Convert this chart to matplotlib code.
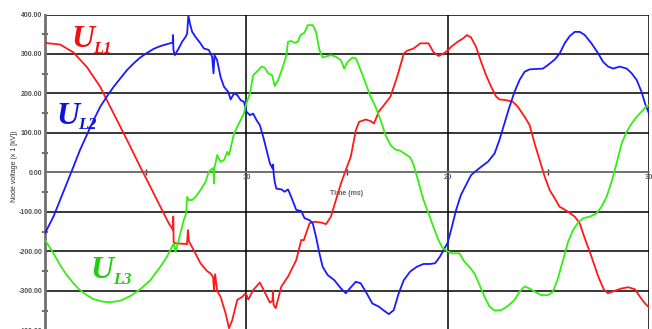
import matplotlib
matplotlib.use("Agg")
import matplotlib.pyplot as plt
from matplotlib.ticker import MultipleLocator, FuncFormatter

# Phase voltages U_L1, U_L2, U_L3: time (ms) and node voltage (x 1 kV)
t_l1 = [0, 0.75, 1.41, 2.08, 2.74, 3.24, 3.74, 4.24, 4.73, 5.23, 5.73, 6.15, 6.36, 6.37, 6.39,
        6.55, 6.95, 7.05, 7.10, 7.15, 7.39, 7.72, 8.05, 8.22, 8.35, 8.39, 8.45, 8.55, 8.72, 8.97,
        9.14, 9.30, 9.55, 9.80, 9.97, 10.1, 10.34, 10.67, 10.9, 11.17, 11.3, 11.32, 11.35, 11.46,
        11.74, 12.07, 12.48, 12.73, 12.85, 13.14, 13.38, 13.71, 13.96, 14.2, 14.45, 14.7, 14.94,
        15.19, 15.44, 15.6, 15.93, 16.17, 16.34, 16.58, 16.83, 17.16, 17.49, 17.82, 17.98, 18.31,
        18.64, 19.05, 19.29, 19.54, 19.79, 20.03, 20.17, 20.5, 20.75, 20.96, 21.16, 21.41, 21.66,
        21.91, 22.16, 22.41, 22.57, 22.9, 23.24, 23.49, 23.82, 24.07, 24.32, 24.57, 24.82, 25.07,
        25.32, 25.56, 25.9, 26.31, 26.56, 26.81, 27.14, 27.48, 27.77, 27.97, 28.3, 28.64, 28.97,
        29.3, 29.55, 29.8, 30]
u_l1 = [328, 324, 304, 267, 217, 166, 116, 65, 14, -36, -87, -129, -146, -112, -178,
        -180, -181, -182, -146, -175, -197, -230, -250, -256, -265, -298, -258, -300, -315, -357,
        -395, -374, -323, -315, -306, -322, -298, -279, -302, -330, -325, -300, -335, -344,
        -289, -264, -222, -171, -172, -129, -125, -127, -131, -112, -70, -28, 6,
        40, 107, 128, 134, 130, 124, 154, 170, 192, 242, 301, 308, 314,
        327, 327, 305, 295, 301, 310, 318, 331, 339, 348, 342, 318, 280,
        246, 217, 192, 185, 183, 179, 166, 141, 120, 73, 31, -11, -45,
        -66, -87, -97, -112, -129, -167, -213, -264, -298, -306, -300, -294, -291,
        -296, -315, -332, -342]

t_l2 = [0, 0.42, 0.75, 1.08, 1.41, 1.74, 2.08, 2.41, 2.74, 3.07, 3.41, 3.74, 4.07, 4.4, 4.73,
        5.07, 5.4, 5.73, 6.06, 6.34, 6.36, 6.38, 6.45, 6.64, 6.81, 6.98, 7.06, 7.12, 7.2, 7.31,
        7.48, 7.72, 7.89, 8.14, 8.3, 8.37, 8.42, 8.55, 8.72, 8.89, 9.1, 9.22, 9.39, 9.55, 9.72,
        9.88, 10.0, 10.18, 10.34, 10.51, 10.67, 10.84, 11.0, 11.17, 11.3, 11.33, 11.36, 11.41,
        11.49, 11.74, 11.9, 12.07, 12.23, 12.48, 12.73, 12.89, 13.14, 13.3, 13.46, 13.63, 13.79,
        14.04, 14.37, 14.7, 14.94, 15.19, 15.44, 15.68, 15.93, 16.26, 16.58, 16.83, 17.08, 17.32,
        17.57, 17.82, 18.14, 18.47, 18.8, 19.13, 19.38, 19.62, 19.87, 20.0, 20.17, 20.42, 20.66,
        20.91, 21.16, 21.41, 21.66, 22.0, 22.33, 22.57, 22.82, 23.07, 23.32, 23.57, 23.82, 24.07,
        24.4, 24.73, 24.98, 25.32, 25.56, 25.81, 26.06, 26.31, 26.56, 26.81, 27.14, 27.48, 27.72,
        27.97, 28.22, 28.55, 28.89, 29.14, 29.39, 29.63, 29.8, 30]
u_l2 = [-154, -112, -70, -28, 14, 57, 95, 132, 166, 192, 217, 238, 259, 276, 291,
        303, 313, 320, 325, 329, 348, 310, 297, 314, 331, 343, 352, 398, 377, 356,
        343, 327, 314, 310, 293, 251, 297, 284, 242, 217, 204, 185, 200, 196, 183,
        179, 154, 145, 149, 132, 120, 90, 57, 23, 10, 20, -5, -24,
        -41, -43, -49, -43, -62, -95, -98, -116, -121, -129, -163, -205, -239,
        -260, -273, -294, -306, -291, -277, -281, -302, -332, -340, -350, -359, -349,
        -306, -273, -251, -239, -232, -232, -230, -213, -190, -178, -146, -95, -57,
        -32, -7, 4, 14, 27, 48, 82, 124, 166, 204, 234, 255, 261,
        262, 263, 272, 286, 301, 327, 345, 356, 356, 348, 327, 301, 280,
        268, 263, 268, 263, 251, 234, 204, 175, 149]

t_l3 = [0, 0.42, 0.75, 1.08, 1.41, 1.74, 2.08, 2.41, 2.82, 3.24, 3.74, 4.24, 4.73, 5.23, 5.73,
        6.06, 6.31, 6.4, 6.48, 6.56, 6.73, 6.89, 7.01, 7.06, 7.14, 7.31, 7.48, 7.72, 7.97, 8.14,
        8.31, 8.37, 8.39, 8.42, 8.47, 8.55, 8.72, 8.89, 9.05, 9.14, 9.39, 9.63, 9.88, 10.0, 10.18,
        10.34, 10.51, 10.76, 10.92, 11.08, 11.28, 11.41, 11.58, 11.82, 11.99, 12.07, 12.23, 12.4,
        12.56, 12.69, 12.89, 13.05, 13.3, 13.46, 13.63, 13.79, 14.04, 14.2, 14.45, 14.7, 14.86,
        15.03, 15.27, 15.44, 15.68, 15.93, 16.17, 16.42, 16.67, 16.91, 17.16, 17.4, 17.65, 17.9,
        18.14, 18.31, 18.55, 18.8, 19.05, 19.29, 19.54, 19.75, 20.0, 20.25, 20.58, 20.83, 21.08,
        21.33, 21.58, 21.83, 22.08, 22.33, 22.66, 23.0, 23.32, 23.57, 23.82, 24.07, 24.32, 24.65,
        24.98, 25.23, 25.48, 25.73, 25.98, 26.23, 26.48, 26.73, 27.06, 27.39, 27.64, 27.89, 28.14,
        28.39, 28.64, 28.89, 29.14, 29.39, 29.63, 29.88, 30]
u_l3 = [-171, -205, -235, -260, -281, -298, -311, -321, -327, -329, -325, -313, -296, -273, -239,
        -213, -188, -180, -201, -188, -154, -121, -104, -62, -70, -70, -62, -45, -24, 2,
        10, 10, -28, 15, 23, 44, 27, 31, 52, 44, 99, 124, 149, 175, 200,
        246, 255, 268, 265, 251, 246, 219, 234, 268, 297, 331, 333, 328,
        331, 348, 354, 373, 373, 356, 310, 291, 295, 297, 293, 284, 263,
        280, 291, 289, 259, 225, 192, 166, 132, 95, 69, 58, 55, 46,
        38, 19, -24, -70, -104, -138, -171, -192, -200, -205, -205, -226, -239,
        -256, -285, -315, -340, -350, -349, -338, -323, -302, -289, -294, -302, -311,
        -311, -302, -268, -222, -176, -146, -127, -116, -112, -104, -87, -62, -24,
        23, 73, 103, 124, 141, 154, 168, 170]

series = [
    ("U", "L1", t_l1, u_l1, "#ff1a1a", "#ee1111", (1.33, 317), (2.38, 302)),
    ("U", "L2", t_l2, u_l2, "#1a1aff", "#1111dd", (0.55, 122), (1.64, 110)),
    ("U", "L3", t_l3, u_l3, "#33ee11", "#22cc11", (2.25, -267), (3.36, -283)),
]

x_ticks = [10, 20, 30]

fig = plt.figure(figsize=(6.52, 3.29), dpi=100)
ax = fig.add_axes([45 / 652, -1.3 / 329, 604 / 652, 315.8 / 329])
ax.set_xlim(0, 30)
ax.set_ylim(-400, 400)

# grid: horizontal every 100, vertical every 10 ms
for y in range(-300, 401, 100):
    ax.axhline(y, color="black", lw=1.1, zorder=1)
for x in x_ticks:
    ax.axvline(x, color="black", lw=1.1, zorder=1)

for base, sub, t, u, lc, tc, p_base, p_sub in series:
    ax.plot(t, u, color=lc, lw=1.3, zorder=3, solid_joinstyle="round")
    ax.text(*p_base, base, color=tc, fontsize=23, fontstyle="italic", fontweight="bold",
            family="Liberation Serif", ha="left", va="baseline", zorder=4)
    ax.text(*p_sub, sub, color=tc, fontsize=12, fontstyle="italic", fontweight="bold",
            family="Liberation Serif", ha="left", va="baseline", zorder=4)

# axes styling
for s in ("top", "right"):
    ax.spines[s].set_visible(False)
ax.spines["left"].set_color("#707070")
ax.spines["left"].set_linewidth(2.0)
ax.spines["bottom"].set_position(("data", 0))
ax.spines["bottom"].set_color("#808080")
ax.spines["bottom"].set_linewidth(1.2)
ax.spines["bottom"].set_zorder(2)

ax.yaxis.set_major_locator(MultipleLocator(100))
ax.yaxis.set_minor_locator(MultipleLocator(50))
ax.yaxis.set_major_formatter(FuncFormatter(lambda v, p: f"{v:.2f}"))
ax.tick_params(axis="y", which="both", direction="inout", length=5, width=1.2,
               color="#505050", labelsize=5, labelcolor="#505050", pad=2)
ax.tick_params(axis="y", which="major", length=0)

ax.set_xticks(x_ticks)
ax.set_xticks([5, 15, 25], minor=True)
ax.set_xticklabels([str(v) for v in x_ticks])
ax.tick_params(axis="x", which="both", direction="inout", length=5, width=1.0,
               color="#303030", labelsize=5.5, labelcolor="#606060", pad=1)
ax.tick_params(axis="x", which="major", length=0)

for lab in ax.get_xticklabels() + ax.get_yticklabels():
    lab.set_family("Liberation Sans")
    lab.set_fontweight("bold")

ax.text(15, -45, "Time (ms)", ha="center", va="top", fontsize=5,
        color="#606060", family="Liberation Sans", fontweight="bold")
fig.text(15 / 652, 1 - 166 / 329, "Node voltage (x 1 [kV])", rotation=90,
         ha="center", va="center", fontsize=5, color="#303030",
         family="Liberation Sans")

fig.savefig("out.png", dpi=100)
